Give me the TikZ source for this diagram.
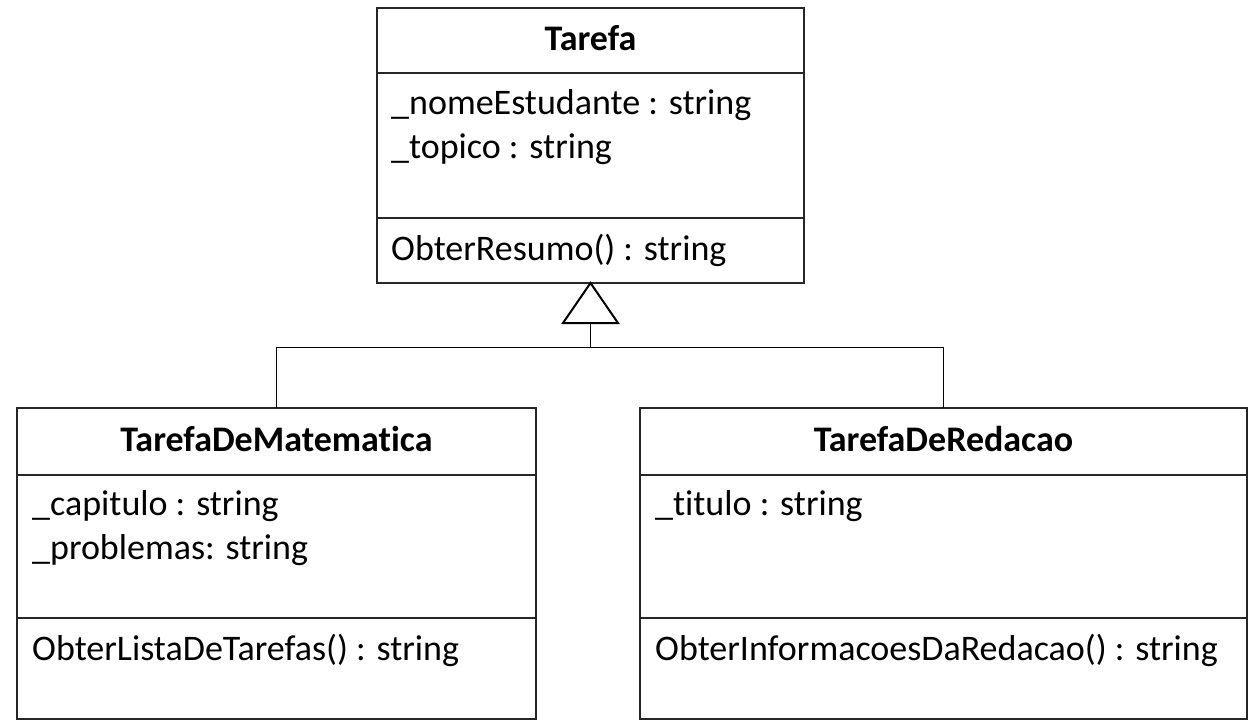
\documentclass[tikz,border=0pt]{standalone}
\usepackage{fontspec}
\setmainfont[Ligatures={NoCommon,NoRequired}]{Carlito}
\begin{document}
\begin{tikzpicture}[x=1bp,y=-1bp,
  cls/.style={draw=black!85,line width=1.8bp,inner sep=0pt,outer sep=0pt,anchor=north west},
  sep/.style={draw=black!85,line width=1.6bp},
  ttl/.style={anchor=base,inner sep=0pt,font=\fontsize{36bp}{44bp}\selectfont\bfseries},
  txt/.style={anchor=base west,inner sep=0pt,font=\fontsize{36bp}{44bp}\selectfont},
  conn/.style={draw=black,line width=1bp},
  gen/.style={draw=black,line width=2bp,fill=white,line join=miter}]
\useasboundingbox (0,0) rectangle (1255,726);
% boxes
\node[cls,minimum width=427bp,minimum height=275bp] (tarefa) at (377,8) {};
\node[cls,minimum width=519bp,minimum height=311bp] (mat) at (17,408) {};
\node[cls,minimum width=607bp,minimum height=311bp] (red) at (640,408) {};
% dividers
\draw[sep] (377,73) -- (804,73);
\draw[sep] (377,218) -- (804,218);
\draw[sep] (17,475) -- (536,475);
\draw[sep] (17,618) -- (536,618);
\draw[sep] (640,475) -- (1247,475);
\draw[sep] (640,618) -- (1247,618);
% texts
\node[ttl] (t1) at (590.5,51) {Tarefa};
\node[txt] (t2) at (391,115) {\_nomeEstudante : string};
\node[txt] (t3) at (391,159) {\_topico : string};
\node[txt] (t4) at (391,260) {ObterResumo() : string};
\node[ttl] (m1) at (276.5,451) {TarefaDeMatematica};
\node[txt] (m2) at (32,515) {\_capitulo : string};
\node[txt] (m3) at (32,559) {\_problemas: string};
\node[txt] (m4) at (32,660) {ObterListaDeTarefas() : string};
\node[ttl] (r1) at (943.5,451) {TarefaDeRedacao};
\node[txt] (r2) at (655,515) {\_titulo : string};
\node[txt] (r4) at (655,660) {ObterInformacoesDaRedacao() : string};
% generalization
\coordinate (tb) at (590.5,323);
\coordinate (j) at (590.5,347);
\draw[conn] (tb) -- (j) -| (mat.north);
\draw[conn] (j) -| (red.north);
\draw[gen] (tarefa.south) -- (563,323) -- (618,323) -- cycle;
\end{tikzpicture}
\end{document}
